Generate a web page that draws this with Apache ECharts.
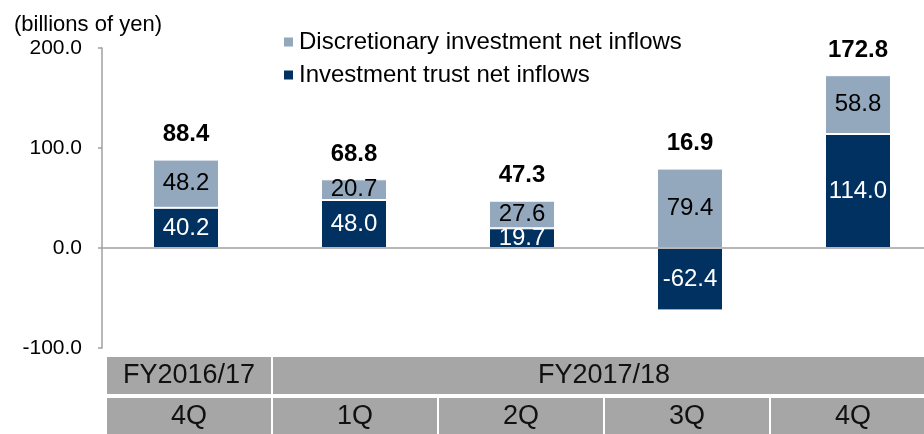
<!DOCTYPE html>
<html>
<head>
<meta charset="utf-8">
<script src="https://cdn.jsdelivr.net/npm/echarts@6/dist/echarts.min.js"></script>
<style>
  html, body { margin: 0; padding: 0; background: #fff; overflow: hidden; }
  /* the plot runs past the right edge of the picture, as in the source slide */
  #chart { width: 944px; height: 434px; }
</style>
</head>
<body>
<div id="chart"></div>
<script>
// data
var periods = ['FY2016/17 4Q', 'FY2017/18 1Q', 'FY2017/18 2Q', 'FY2017/18 3Q', 'FY2017/18 4Q'];
var quarterLabels = ['4Q', '1Q', '2Q', '3Q', '4Q'];
var fiscalYearLabels = ['FY2016/17', 'FY2017/18'];
var fiscalYearSpans = [1, 4];
var trustInflows = [40.2, 48.0, 19.7, -62.4, 114.0];
var discretionaryInflows = [48.2, 20.7, 27.6, 79.4, 58.8];
var totals = [88.4, 68.8, 47.3, 16.9, 172.8];
var yTicks = [-100, 0, 100, 200];

var FONT = '"Liberation Sans", Arial, sans-serif';
var LIGHT = '#93a7bd';
var DARK = '#003161';
var CELL = '#a6a6a6';

// top of the positive stack, where the total label sits
var stackTops = trustInflows.map(function (v, i) {
    return Math.max(v, 0) + Math.max(discretionaryInflows[i], 0);
});

//table under the chart
var tableLeft = 107, cellStep = 166, cellW = 164;
var tableGraphics = [];
var col = 0;
fiscalYearLabels.forEach(function (label, i) {
    var w = fiscalYearSpans[i] * cellStep - 2;
    tableGraphics.push({
        type: 'rect', left: tableLeft + col * cellStep, top: 357,
        shape: { width: w, height: 37 }, style: { fill: CELL }, silent: true
    });
    tableGraphics.push({
        type: 'text', x: tableLeft + col * cellStep + w / 2, y: 376,
        style: { text: label, font: '27px ' + FONT, fill: '#111', align: 'center', verticalAlign: 'middle' },
        silent: true
    });
    col += fiscalYearSpans[i];
});
quarterLabels.forEach(function (label, i) {
    tableGraphics.push({
        type: 'rect', left: tableLeft + i * cellStep, top: 398,
        shape: { width: cellW, height: 36 }, style: { fill: CELL }, silent: true
    });
    tableGraphics.push({
        type: 'text', x: tableLeft + i * cellStep + cellW / 2, y: 417,
        style: { text: label, font: '27px ' + FONT, fill: '#111', align: 'center', verticalAlign: 'middle' },
        silent: true
    });
});

var myChart = echarts.init(document.getElementById('chart'));
var option = {
    backgroundColor: '#fff',
    animation: false,
    title: {
        text: '(billions of yen)',
        left: 9, top: 9,
        textStyle: { fontFamily: FONT, fontSize: 22, fontWeight: 'normal', color: '#000' }
    },
    legend: {
        data: ['Discretionary investment net inflows', 'Investment trust net inflows'],
        orient: 'vertical',
        left: 277, top: 25,
        icon: 'rect',
        itemWidth: 11, itemHeight: 11, itemGap: 9,
        textStyle: { fontFamily: FONT, fontSize: 24, color: '#000' }
    },
    grid: { left: 102, top: 48, width: 840, height: 300 },
    xAxis: {
        type: 'category',
        data: periods,
        z: 10,
        axisLine: { onZero: true, lineStyle: { color: '#a0a0a0', width: 1.5 } },
        axisTick: { show: false },
        axisLabel: { show: false }
    },
    yAxis: {
        type: 'value',
        min: yTicks[0], max: yTicks[yTicks.length - 1], interval: 100,
        axisLine: { show: true, lineStyle: { color: '#a0a0a0', width: 1.5 } },
        axisTick: { show: true, length: 4, lineStyle: { color: '#a0a0a0', width: 1.5 } },
        splitLine: { show: false },
        axisLabel: {
            margin: 20,
            fontFamily: FONT, fontSize: 21, color: '#000',
            formatter: function (v) { return v.toFixed(1); }
        }
    },
    series: [
        {
            name: 'Investment trust net inflows',
            type: 'bar', stack: 'flows', barWidth: 66,
            data: trustInflows,
            itemStyle: { color: DARK, borderColor: '#fff', borderWidth: 1 },
            label: {
                show: true, position: 'inside',
                fontFamily: FONT, fontSize: 24, color: '#fff',
                formatter: function (p) { return p.value.toFixed(1); }
            }
        },
        {
            name: 'Discretionary investment net inflows',
            type: 'bar', stack: 'flows', barWidth: 66,
            data: discretionaryInflows,
            itemStyle: { color: LIGHT, borderColor: '#fff', borderWidth: 1 },
            label: {
                show: true, position: 'inside',
                fontFamily: FONT, fontSize: 24, color: '#000',
                formatter: function (p) { return p.value.toFixed(1); }
            }
        },
        {
            name: 'total',
            type: 'bar', barWidth: 66, barGap: '-100%',
            data: stackTops,
            silent: true,
            itemStyle: { color: 'rgba(0,0,0,0)' },
            label: {
                show: true, position: 'top', distance: 13,
                fontFamily: FONT, fontSize: 24, fontWeight: 'bold', color: '#000',
                formatter: function (p) { return totals[p.dataIndex].toFixed(1); }
            }
        }
    ],
    graphic: tableGraphics
};
myChart.setOption(option);
</script>
</body>
</html>
